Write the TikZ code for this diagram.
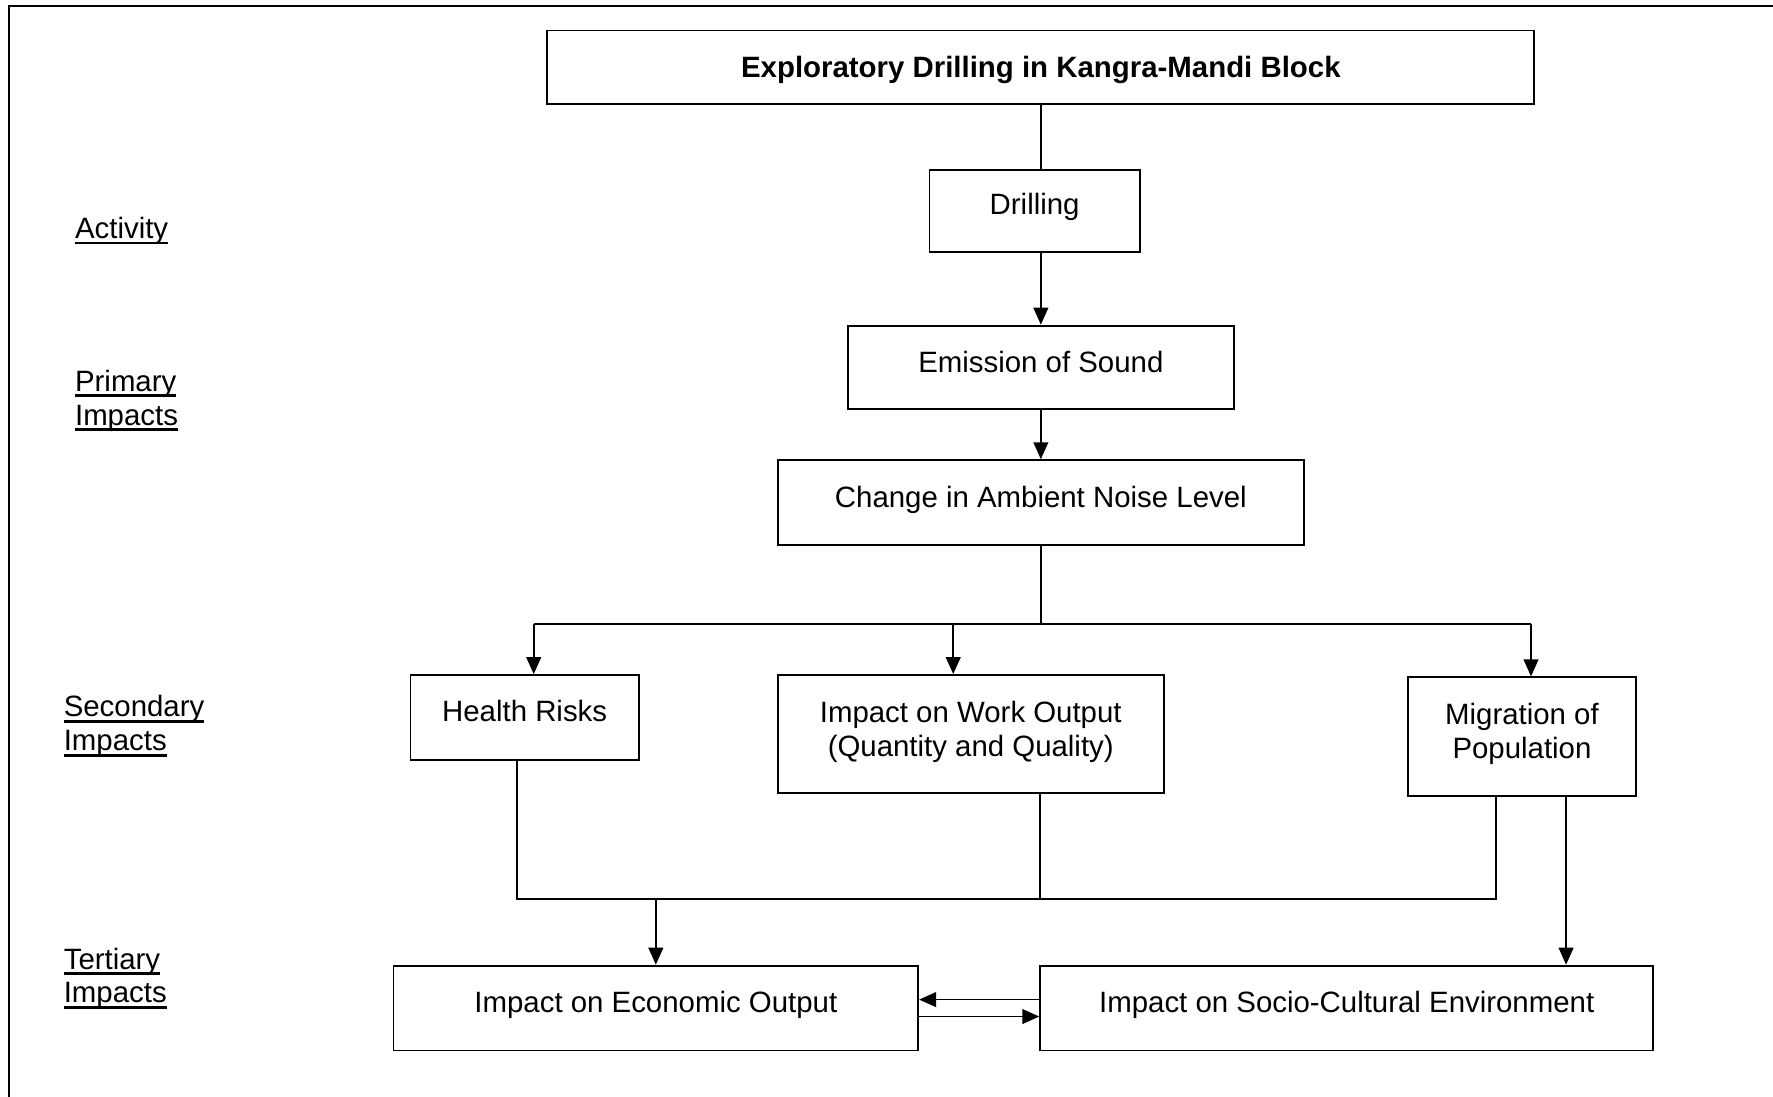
\documentclass[tikz,border=0pt]{standalone}
\usepackage{fontspec}
\setmainfont{Liberation Sans}
\usetikzlibrary{arrows.meta}

% underline with a fixed depth and thickness
\newlength\undlw
\newcommand\undl[1]{\settowidth\undlw{#1}#1\llap{\rule[-2.6pt]{\undlw}{1.2pt}}}

\begin{document}
\begin{tikzpicture}[x=0.5pt, y=-0.5pt,
  every node/.style={font=\fontsize{13}{15}\selectfont},
  box/.style={draw, line width=0.85pt, inner sep=0pt},
  txt/.style={inner sep=0pt, anchor=base, align=center},
  two/.style={inner sep=0pt, anchor=center, align=center},
  side/.style={inner sep=0pt, anchor=base west, align=left},
  link/.style={line width=0.8pt},
  arr/.style={line width=0.8pt, -{Triangle[length=7.5pt,width=6.5pt]}}]

\useasboundingbox (0,0) rectangle (1568,970);

% page frame (left and top edges)
\draw[line width=1pt] (8,972) -- (8,5) -- (1570,5);

% boxes
\node[box, minimum width=436.5pt, minimum height=32.5pt] (top)    at (920.5,59.5) {};
\node[box, minimum width=93pt,    minimum height=36.5pt] (drill)  at (915,186.5) {};
\node[box, minimum width=170.5pt, minimum height=37pt]   (emis)   at (920.5,325) {};
\node[box, minimum width=232.5pt, minimum height=37.5pt] (change) at (920.5,444.5) {};
\node[box, minimum width=101pt,   minimum height=37.5pt] (health) at (464,634.5) {};
\node[box, minimum width=170.5pt, minimum height=52pt]   (work)   at (858.5,649) {};
\node[box, minimum width=101pt,   minimum height=52.5pt] (migr)   at (1346,651.5) {};
\node[box, minimum width=232pt,   minimum height=37.5pt] (econ)   at (580,891.5) {};
\node[box, minimum width=271pt,   minimum height=37.5pt] (socio)  at (1191,891.5) {};

% box texts
\node[txt] (top-t)    at (920.5,68.5) {\bfseries Exploratory Drilling in Kangra-Mandi Block};
\node[txt] (drill-t)  at (915,190) {Drilling};
\node[txt] (emis-t)   at (920.5,329) {Emission of Sound};
\node[txt] (change-t) at (920.5,449) {Change in Ambient Noise Level};
\node[txt] (health-t) at (464,638) {Health Risks};
\node[two] (work-t)   at (858.5,647) {Impact on Work Output\\(Quantity and Quality)};
\node[two] (migr-t)   at (1346,649) {Migration of\\Population};
\node[txt] (econ-t)   at (580,895) {Impact on Economic Output};
\node[txt] (socio-t)  at (1191,895) {Impact on Socio-Cultural Environment};

% level labels (anchored at the baseline of their last line)
\node[side] (lab-act) at (66,211) {\undl{Activity}};
\node[side] (lab-pri) at (66,376) {\undl{Primary}\\\undl{Impacts}};
\node[side] (lab-sec) at (56,664) {\undl{Secondary}\\\undl{Impacts}};
\node[side] (lab-ter) at (56,887) {\undl{Tertiary}\\\undl{Impacts}};

% routing points
\coordinate (split) at (920.5,552);
\coordinate (hx) at (472,552);
\coordinate (wx) at (843,552);
\coordinate (mx) at (1354,552);
\coordinate (hb) at (457,795);
\coordinate (wb) at (920,795);
\coordinate (mb) at (1323,795);
\coordinate (eb) at (580,795);
\coordinate (sx) at (1385,795);
\coordinate (ya) at (866,884);
\coordinate (yb) at (866,899);

% activity chain
\draw[link] (top.south -| emis.north) -- (drill.north -| emis.north);
\draw[arr] (drill.south -| emis.north) -- (emis.north);
\draw[arr] (emis.south) -- (change.north);

% branching to secondary impacts
\draw[link] (change.south) -- (split);
\draw[link] (hx) -- (mx);
\draw[arr] (hx) -- (health.north -| hx);
\draw[arr] (wx) -- (work.north -| wx);
\draw[arr] (mx) -- (migr.north -| mx);

% merging towards tertiary impacts
\draw[link] (health.south -| hb) -- (hb) -- (mb) -- (migr.south -| mb);
\draw[link] (work.south -| wb) -- (wb);
\draw[arr] (eb) -- (econ.north);
\draw[arr] (migr.south -| sx) -- (socio.north -| sx);

% two-way link between tertiary impacts
\draw[arr] (socio.west |- ya) -- (econ.east |- ya);
\draw[arr] (econ.east |- yb) -- (socio.west |- yb);
\end{tikzpicture}
\end{document}
